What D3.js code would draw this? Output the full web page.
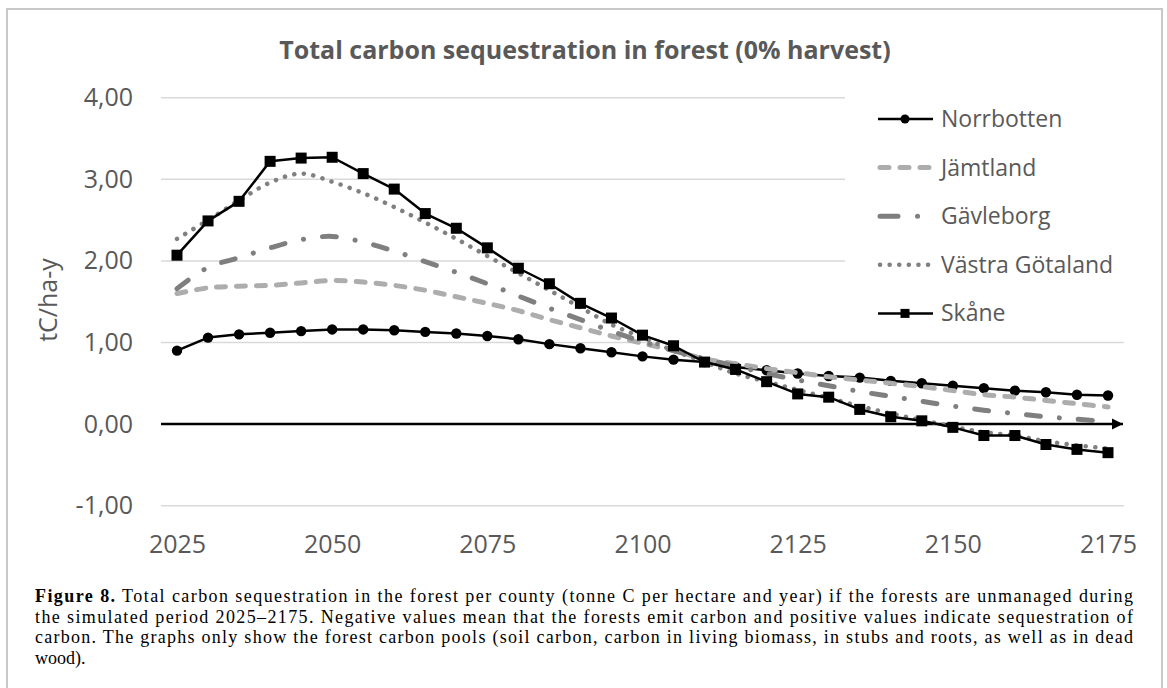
<!DOCTYPE html>
<html>
<head>
<meta charset="utf-8">
<script src="https://cdn.jsdelivr.net/npm/d3@7"></script>
<style>
body { margin: 0; background: #fff; }
svg text { font-family: "Open Sans", sans-serif; }
svg text.caption { font-family: "Liberation Serif", serif; }
</style>
</head>
<body>
<svg id="chart" width="1167" height="688"></svg>
<script>
"use strict";

var years = [2025, 2030, 2035, 2040, 2045, 2050, 2055, 2060, 2065, 2070, 2075,
             2080, 2085, 2090, 2095, 2100, 2105, 2110, 2115, 2120, 2125,
             2130, 2135, 2140, 2145, 2150, 2155, 2160, 2165, 2170, 2175],

    norrbotten = [0.90, 1.06, 1.10, 1.12, 1.14, 1.16, 1.16, 1.15, 1.13, 1.11, 1.08,
                  1.04, 0.98, 0.93, 0.88, 0.83, 0.79, 0.76, 0.70, 0.66, 0.62,
                  0.59, 0.57, 0.53, 0.50, 0.47, 0.44, 0.41, 0.39, 0.36, 0.35],
    jamtland = [1.60, 1.67, 1.69, 1.70, 1.73, 1.76, 1.74, 1.70, 1.64, 1.56, 1.48,
                1.39, 1.28, 1.18, 1.08, 0.99, 0.90, 0.80, 0.74, 0.68, 0.63,
                0.58, 0.54, 0.50, 0.46, 0.41, 0.36, 0.33, 0.29, 0.25, 0.21],
    gavleborg = [1.66, 1.92, 2.04, 2.16, 2.26, 2.30, 2.23, 2.12, 1.99, 1.86, 1.72,
                 1.57, 1.42, 1.28, 1.14, 1.01, 0.90, 0.80, 0.71, 0.62, 0.54,
                 0.47, 0.40, 0.34, 0.28, 0.22, 0.17, 0.13, 0.09, 0.06, 0.03],
    vastraGotaland = [2.27, 2.50, 2.74, 2.96, 3.07, 2.97, 2.83, 2.66, 2.47, 2.27, 2.06,
                      1.85, 1.64, 1.43, 1.22, 1.06, 0.90, 0.76, 0.62, 0.52, 0.42,
                      0.32, 0.22, 0.13, 0.05, -0.03, -0.10, -0.14, -0.21, -0.26, -0.30],
    skane = [2.07, 2.49, 2.73, 3.22, 3.26, 3.27, 3.07, 2.88, 2.58, 2.40, 2.16,
             1.91, 1.72, 1.48, 1.30, 1.09, 0.96, 0.76, 0.67, 0.52, 0.37,
             0.33, 0.18, 0.09, 0.04, -0.04, -0.14, -0.14, -0.25, -0.31, -0.35],

    seriesNames = ["Norrbotten", "Jämtland", "Gävleborg", "Västra Götaland", "Skåne"],
    yTicks = [-1, 0, 1, 2, 3, 4],
    xTicks = [2025, 2050, 2075, 2100, 2125, 2150, 2175],

    titleText = "Total carbon sequestration in forest (0% harvest)",
    yTitle = "tC/ha-y",
    captionLines = [
        " Total carbon sequestration in the forest per county (tonne C per hectare and year) if the forests are unmanaged during",
        "the simulated period 2025–2175. Negative values mean that the forests emit carbon and positive values indicate sequestration of",
        "carbon. The graphs only show the forest carbon pools (soil carbon, carbon in living biomass, in stubs and roots, as well as in dead",
        "wood)."
    ],

    textGrey = "#595959",
    gridGrey = "#d9d9d9",

    plotLeft = 161,
    plotRight = 1124,
    captionLeft = 35,
    captionRight = 1133;

var styles = [
    {stroke: "#000", width: 2.5, dash: null, cap: "butt", curve: d3.curveLinear, marker: "circle"},
    {stroke: "#adadad", width: 5, dash: "9,11", cap: "round", curve: d3.curveCatmullRom, marker: null},
    {stroke: "#7f7f7f", width: 5, dash: "14,19,0.1,19", cap: "round", curve: d3.curveCatmullRom, marker: null},
    {stroke: "#808080", width: 4.5, dash: "0.1,9.5", cap: "round", curve: d3.curveCatmullRom, marker: null},
    {stroke: "#000", width: 2.5, dash: null, cap: "butt", curve: d3.curveLinear, marker: "square"}
];

var series = [norrbotten, jamtland, gavleborg, vastraGotaland, skane].map(function(values, i) {
    return {
        name: seriesNames[i],
        style: styles[i],
        points: values.map(function(v, j) {
            return {year: years[j], value: v};
        })
    };
});

var svg = d3.select("#chart"),
    comma = d3.formatLocale({decimal: ",", thousands: ".", grouping: [3], currency: ["", ""], minus: "-"}).format(".2f"),

    x = d3.scaleLinear().domain([2025, 2175]).range([177, 1108]),
    y = d3.scaleLinear().domain([-1, 4]).range([505.7, 97.7]);

// outer frame
svg.append("rect")
    .attr("x", 7)
    .attr("y", 9)
    .attr("width", 1155)
    .attr("height", 700)
    .attr("fill", "#fff")
    .attr("stroke", "#c8c8c8")
    .attr("stroke-width", 2);

svg.append("text")
    .attr("x", 585)
    .attr("y", 59)
    .attr("text-anchor", "middle")
    .attr("font-size", 25)
    .attr("font-weight", 700)
    .attr("fill", textGrey)
    .text(titleText);

// gridlines (zero line is drawn later as the axis)
svg.append("g")
    .selectAll("line")
    .data(yTicks.filter(function(t) { return t !== 0; }))
    .enter().append("line")
    .attr("x1", plotLeft)
    .attr("x2", plotRight)
    .attr("y1", function(d) { return y(d); })
    .attr("y2", function(d) { return y(d); })
    .attr("stroke", gridGrey)
    .attr("stroke-width", 1.5);

var yAxis = svg.append("g")
    .attr("transform", "translate(" + plotLeft + ",0)")
    .call(d3.axisLeft(y).tickValues(yTicks).tickFormat(comma).tickSize(0).tickPadding(28));

var xAxis = svg.append("g")
    .attr("transform", "translate(0,535)")
    .call(d3.axisBottom(x).tickValues(xTicks).tickFormat(d3.format("d")).tickSize(0).tickPadding(0));

[yAxis, xAxis].forEach(function(g) {
    g.select(".domain").remove();
    g.selectAll("text")
        .attr("font-family", "Open Sans, sans-serif")
        .attr("font-size", 25)
        .attr("fill", textGrey);
});

svg.append("text")
    .attr("transform", "translate(57,300) rotate(-90)")
    .attr("text-anchor", "middle")
    .attr("font-size", 25)
    .attr("fill", textGrey)
    .text(yTitle);

// zero axis with arrow head
svg.append("defs").append("marker")
    .attr("id", "arrow")
    .attr("viewBox", "0 0 10 10")
    .attr("refX", 10)
    .attr("refY", 5)
    .attr("markerWidth", 4.6)
    .attr("markerHeight", 5)
    .attr("markerUnits", "strokeWidth")
    .attr("orient", "auto")
    .append("path")
    .attr("d", "M0,0L10,5L0,10Z")
    .attr("fill", "#000");

svg.append("line")
    .attr("x1", plotLeft)
    .attr("x2", 1123)
    .attr("y1", y(0))
    .attr("y2", y(0))
    .attr("stroke", "#000")
    .attr("stroke-width", 2.5)
    .attr("marker-end", "url(#arrow)");

// series lines
var lines = svg.append("g")
    .selectAll("g.series")
    .data(series)
    .enter().append("g")
    .classed("series", true);

lines.append("path")
    .attr("fill", "none")
    .attr("stroke", function(d) { return d.style.stroke; })
    .attr("stroke-width", function(d) { return d.style.width; })
    .attr("stroke-dasharray", function(d) { return d.style.dash; })
    .attr("stroke-linecap", function(d) { return d.style.cap; })
    .attr("stroke-linejoin", "round")
    .attr("d", function(d) {
        return d3.line()
            .curve(d.style.curve)
            .x(function(p) { return x(p.year); })
            .y(function(p) { return y(p.value); })(d.points);
    });

lines.filter(function(d) { return d.style.marker === "circle"; })
    .selectAll("circle")
    .data(function(d) { return d.points; })
    .enter().append("circle")
    .attr("cx", function(p) { return x(p.year); })
    .attr("cy", function(p) { return y(p.value); })
    .attr("r", 5.2)
    .attr("fill", "#000");

lines.filter(function(d) { return d.style.marker === "square"; })
    .selectAll("rect")
    .data(function(d) { return d.points; })
    .enter().append("rect")
    .attr("x", function(p) { return x(p.year) - 5.5; })
    .attr("y", function(p) { return y(p.value) - 5.5; })
    .attr("width", 11)
    .attr("height", 11)
    .attr("fill", "#000");

// legend, sits on a white box over the upper gridlines
var legend = svg.append("g");

legend.append("rect")
    .attr("x", 845)
    .attr("y", 86)
    .attr("width", 282)
    .attr("height", 248)
    .attr("fill", "#fff");

var legendRows = legend.selectAll("g.legend-row")
    .data(series)
    .enter().append("g")
    .classed("legend-row", true)
    .attr("transform", function(d, i) {
        return "translate(0," + (119 + i * 48.6) + ")";
    });

legendRows.append("line")
    .attr("x1", function(d) { return d.style.dash ? 880 : 878; })
    .attr("x2", 933)
    .attr("stroke", function(d) { return d.style.stroke; })
    .attr("stroke-width", function(d) { return d.style.width; })
    .attr("stroke-dasharray", function(d, i) {
        return i === 2 ? "18,19.5,0.1,30" : d.style.dash;
    })
    .attr("stroke-linecap", function(d) { return d.style.cap; });

legendRows.filter(function(d) { return d.style.marker === "circle"; })
    .append("circle")
    .attr("cx", 905)
    .attr("r", 4.5)
    .attr("fill", "#000");

legendRows.filter(function(d) { return d.style.marker === "square"; })
    .append("rect")
    .attr("x", 900.5)
    .attr("y", -4.5)
    .attr("width", 9)
    .attr("height", 9)
    .attr("fill", "#000");

legendRows.append("text")
    .attr("x", 941)
    .attr("dy", "0.35em")
    .attr("font-size", 23)
    .attr("fill", textGrey)
    .text(function(d) { return d.name; });

// caption, lines set justified to the frame like the journal layout
var caption = svg.append("g");

caption.selectAll("text")
    .data(captionLines)
    .enter().append("text")
    .classed("caption", true)
    .attr("x", captionLeft)
    .attr("y", function(d, i) { return 602 + i * 20.6; })
    .attr("font-size", 18)
    .attr("fill", "#000")
    .attr("textLength", function(d, i) {
        return i < 3 ? captionRight - captionLeft : null;
    })
    .attr("lengthAdjust", "spacing")
    .each(function(d, i) {
        var t = d3.select(this);
        if (i === 0) {
            t.append("tspan").attr("font-weight", "bold").text("Figure 8.");
        }
        t.append("tspan").text(d);
    });
</script>
</body>
</html>
